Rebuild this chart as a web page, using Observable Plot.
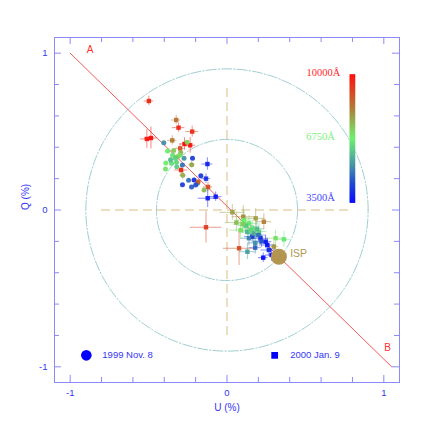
<!DOCTYPE html>
<html><head><meta charset="utf-8">
<script src="https://cdn.jsdelivr.net/npm/d3@7"></script>
<script src="https://cdn.jsdelivr.net/npm/@observablehq/plot@0.6"></script>
<style>body{margin:0;background:#fff}svg{display:block}</style>
</head><body><div id="chart"></div>
<script>
// Polarization data: U (%), Q (%), wavelength (Å), epoch symbol (N = 1999 Nov. 8, J = 2000 Jan. 9), errors
const uVals = [-0.498,-0.324,-0.309,-0.222,-0.511,-0.485,-0.349,-0.271,-0.235,-0.299,-0.293,-0.125,-0.134,-0.121,-0.123,-0.072,-0.225,-0.282,
  -0.403,-0.254,-0.379,-0.347,-0.390,-0.354,-0.392,-0.322,-0.316,-0.295,-0.320,-0.274,-0.220,-0.284,-0.210,-0.167,-0.284,-0.226,-0.188,-0.184,-0.146,-0.330,-0.360,-0.245,-0.200,-0.300,-0.340,
  0.034,0.183,0.235,0.104,0.108,0.140,0.087,0.161,0.204,0.161,0.214,0.246,0.257,0.231,0.284,0.267,0.140,0.180,0.130,0.077,0.310,0.299,-0.134,0.363,0.120,0.170,0.190,0.130,0.200,0.150,0.220,0.180,0.100,0.060];
const qVals = [0.695,0.574,0.525,0.500,0.453,0.459,0.444,0.421,0.413,0.393,0.255,0.293,0.200,0.147,0.075,0.085,0.289,0.221,
  0.429,0.432,0.376,0.349,0.300,0.298,0.261,0.304,0.340,0.366,0.276,0.330,0.330,0.287,0.191,0.219,0.161,0.147,0.170,0.180,0.128,0.330,0.320,0.190,0.160,0.350,0.380,
  -0.015,-0.053,-0.075,-0.043,-0.064,-0.085,-0.128,-0.117,-0.138,-0.170,-0.180,-0.202,-0.223,-0.304,-0.287,-0.255,-0.180,-0.210,-0.266,-0.244,-0.180,-0.234,-0.110,-0.187,-0.100,-0.150,-0.120,-0.140,-0.160,-0.130,-0.200,-0.240,-0.090,-0.080];
const wavelengths = [9500,8500,9600,9400,9700,9900,8400,9900,9800,8900,9500,3900,4100,9000,3800,3800,7800,7700,
  5400,7200,6700,6600,6800,6500,6900,6400,7400,7700,6200,5500,4300,5000,4000,4200,4300,4700,5200,8800,7500,6300,6000,5000,4500,7000,7300,
  7800,7900,8300,8200,6800,6600,7000,6500,6300,4200,4000,3800,3700,3600,3700,4000,5200,5400,5600,9000,7000,8000,9200,6600,6200,5800,6000,5900,5000,6400,4600,4800,7200,7500];
const epochs = "JJJJJJJJJJJJJJJJNNNNNNNNNNNNNNNNNNNNNNNNNNNNNJJJJJJJJJJJJJJJJJJJJJJJJJJJJJJJJJJ".split("");
const uErr = [0.03,0.03,0.04,0.04,0.04,0.04,0.03,0.03,0.035,0.03,0.04,0.035,0.03,0.03,0.06,0.04,0.02,0.02,
  0,0,0,0,0,0,0,0,0,0,0,0,0,0,0,0,0,0,0,0,0,0,0,0,0,0,0,
  0.08,0.06,0.05,0.07,0.05,0.06,0.07,0.05,0.05,0.05,0.05,0.04,0.05,0.03,0.04,0.05,0.05,0.05,0.05,0.10,0.05,0.03,0.10,0.04,0.05,0.05,0.05,0.05,0.05,0.05,0.04,0.04,0.06,0.07];
const qErr = [0.03,0.03,0.03,0.035,0.06,0.07,0.03,0.04,0.05,0.03,0.03,0.04,0.03,0.03,0.06,0.03,0.02,0.03,
  0,0,0,0,0,0,0,0,0,0,0,0,0,0,0,0,0,0,0,0,0,0,0,0,0,0,0,
  0.05,0.06,0.05,0.07,0.06,0.05,0.06,0.05,0.05,0.04,0.04,0.04,0.04,0.03,0.04,0.04,0.05,0.05,0.05,0.11,0.05,0.03,0.10,0.05,0.05,0.05,0.05,0.05,0.05,0.05,0.04,0.04,0.06,0.06];

const ispU = [0.331], ispQ = [-0.298];
const lineU = [-1, 1.05], lineQ = [1, -1];
const circleRadii = [0.45, 0.9];
const colorStops = [3500, 6750, 10000];
const colorRange = ["#0000ff", "#66f066", "#ff0000"];
const legendLabels = ["1999 Nov. 8", "2000 Jan. 9"];
const axisTicks = d3.range(-5, 6).map(i => +(i * 0.2).toFixed(1));

const data = uVals.map((u, i) => ({u, q: qVals[i], wl: wavelengths[i], ep: epochs[i], eu: uErr[i], eq: qErr[i]}));
const withErr = data.filter(d => d.eu > 0);
const circlePts = circleRadii.flatMap(r => d3.range(0, 361, 2).map(a => ({r, u: r * Math.cos(a * Math.PI / 180), q: r * Math.sin(a * Math.PI / 180)})));
const barQ = d3.scaleLinear([3500, 10000], [0.043, 0.861]);
const barSteps = d3.range(3500, 10000, 50);

const blue = "#3535f5", frameC = "#8a8aff";
const isMajor = d => Math.abs(d) === 1 || d === 0;
const lo = -1.1, hi = 1.1;
const serif = "'Liberation Serif', 'DejaVu Serif', serif";

const chart = Plot.plot({
  width: 436, height: 436,
  marginLeft: 54, marginRight: 37, marginTop: 37, marginBottom: 54,
  x: {domain: [lo, hi], axis: null},
  y: {domain: [lo, hi], axis: null},
  color: {type: "linear", domain: colorStops, range: colorRange, interpolate: "rgb"},
  symbol: {domain: ["N", "J"], range: ["circle", "square"]},
  style: {fontFamily: "'Liberation Sans', Arial, sans-serif", fontSize: "9.5px", background: "#fff"},
  marks: [
    // reference circles
    Plot.line(circlePts, {x: "u", y: "q", z: "r", stroke: "#94c8cc", strokeWidth: 0.9, strokeDasharray: "10,2,1.5,2"}),
    // crosshair
    Plot.ruleY([0], {x1: -0.8, x2: 0.8, stroke: "#e6d3ac", strokeWidth: 1.5, strokeDasharray: "9,5"}),
    Plot.ruleX([0], {y1: -0.8, y2: 0.8, stroke: "#e6d3ac", strokeWidth: 1.5, strokeDasharray: "9,5"}),
    // A-B line
    Plot.line(lineU.map((u, i) => ({u, q: lineQ[i]})), {x: "u", y: "q", stroke: "#f25a5a", strokeWidth: 1}),
    Plot.text(["A"], {x: -0.873, y: 1.02, fill: "#ff3030", fontSize: 10}),
    Plot.text(["B"], {x: 1.024, y: -0.878, fill: "#ff3030", fontSize: 10}),
    // error bars
    Plot.ruleY(withErr, {y: "q", x1: d => d.u - d.eu, x2: d => d.u + d.eu, stroke: "wl", strokeOpacity: 0.5, strokeWidth: 1}),
    Plot.ruleX(withErr, {x: "u", y1: d => d.q - d.eq, y2: d => d.q + d.eq, stroke: "wl", strokeOpacity: 0.5, strokeWidth: 1}),
    // points
    Plot.dot(data, {x: "u", y: "q", fill: "wl", symbol: "ep", r: 2.5, stroke: "none", fillOpacity: 0.92}),
    // ISP
    Plot.dot(ispU.map((u, i) => ({u, q: ispQ[i]})), {x: "u", y: "q", r: 8, fill: "#b39550"}),
    Plot.text(["ISP"], {x: 0.403, y: -0.276, textAnchor: "start", fill: "#b39550", fontSize: 10.5}),
    // color bar
    Plot.rect(barSteps, {x1: 0.787, x2: 0.819, y1: w => barQ(w), y2: w => barQ(w + 50), fill: w => w + 25, stroke: w => w + 25, strokeWidth: 0.5}),
    Plot.text(["10000Å"], {x: 0.723, y: barQ(10000), dy: -2, textAnchor: "end", fill: "#ff2a2a", fontFamily: serif, fontSize: 10.5}),
    Plot.text(["6750Å"], {x: 0.505, y: barQ(6750), dy: -2, textAnchor: "start", fill: "#7ef07e", fontFamily: serif, fontSize: 10.5}),
    Plot.text(["3500Å"], {x: 0.505, y: barQ(3500), dy: -6, textAnchor: "start", fill: "#4848ff", fontFamily: serif, fontSize: 10.5}),
    // legend
    Plot.dot([legendLabels[0]], {x: -0.897, y: -0.927, r: 5.3, fill: "#0000ff", symbol: () => "N"}),
    Plot.text([legendLabels[0]], {x: -0.795, y: -0.927, textAnchor: "start", fill: blue}),
    Plot.dot([legendLabels[1]], {x: 0.304, y: -0.927, r: 3.8, fill: "#0000ff", symbol: () => "J"}),
    Plot.text([legendLabels[1]], {x: 0.403, y: -0.927, textAnchor: "start", fill: blue}),
    // inward ticks on all four sides
    Plot.ruleX(axisTicks, {x: d => d, y1: lo, y2: d => lo + (isMajor(d) ? 0.045 : 0.032), stroke: frameC}),
    Plot.ruleX(axisTicks, {x: d => d, y1: hi, y2: d => hi - (isMajor(d) ? 0.045 : 0.032), stroke: frameC}),
    Plot.ruleY(axisTicks, {y: d => d, x1: lo, x2: d => lo + (isMajor(d) ? 0.045 : 0.032), stroke: frameC}),
    Plot.ruleY(axisTicks, {y: d => d, x1: hi, x2: d => hi - (isMajor(d) ? 0.045 : 0.032), stroke: frameC}),
    Plot.frame({stroke: frameC}),
    // tick labels
    Plot.axisX([-1, 0, 1], {anchor: "bottom", tickSize: 0, tickPadding: 7, tickFormat: d => String(d), fill: blue, label: null}),
    Plot.axisY([-1, 0, 1], {anchor: "left", tickSize: 0, tickPadding: 7, tickFormat: d => String(d), fill: blue, label: null}),
    Plot.text(["U (%)"], {frameAnchor: "bottom", dy: 28, fill: blue, fontSize: 10}),
    Plot.text(["Q (%)"], {frameAnchor: "left", dx: -29, rotate: -90, fill: blue, fontSize: 10})
  ]
});
document.getElementById("chart").appendChild(chart);
</script>
</body></html>
